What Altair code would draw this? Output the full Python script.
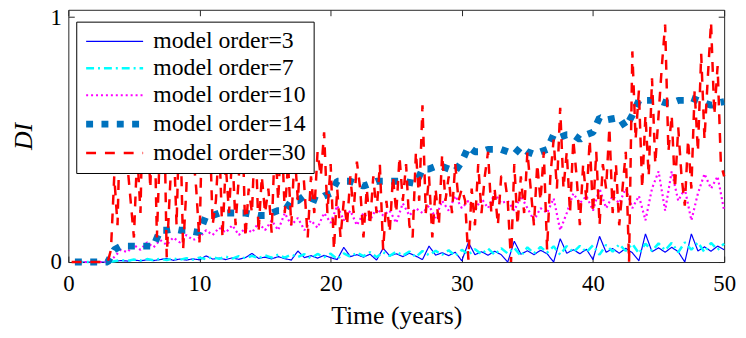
import altair as alt
import pandas as pd

# time grids (years)
TIME = [round(0.5 * k, 2) for k in range(1, 101)]
TIME_Q = [round(0.25 * k, 2) for k in range(1, 201)]

ORDERS = [3, 7, 10, 14, 30]
SERIES = ["model order=3", "model order=7", "model order=10",
          "model order=14", "model order=30"]
BREAKS = [5, 8.5, 12, 20]
COLORS = ["#0000FF", "#00FFFF", "#FF00FF", "#0072BD", "#FF0000"]
DASHES = [[1, 0], [8, 4, 2, 4], [2, 3], [7, 8.5], [10, 9]]
WIDTHS = [1.2, 2.5, 2.2, 7, 2.5]

ORDER3 = [0, 0, 0, 0, 0, 0, 0.003, 0.006, 0.004, 0.008,
          0.005, 0.009, 0.006, 0.01, 0.015, 0.007, 0.012, 0.008, 0.013, 0.009,
          0.025, 0.012, 0.016, 0.01, 0.017, 0.011, 0.018, 0.035, 0.015, 0.02,
          0.013, 0.022, 0.014, 0.008, 0.045, 0.018, 0.026, 0.016, 0.027, 0.018,
          0.01, 0.06, 0.022, 0.03, 0.02, 0.032, 0.008, 0.056, 0.025, 0.034,
          0.022, 0.036, 0.024, 0.01, 0.065, 0.028, 0.038, 0.026, 0.04, 0.005,
          0.08, 0.03, 0.042, 0.028, 0.044, 0.03, 0.0, 0.085, 0.032, 0.046,
          0.03, 0.048, 0.034, 0.0, 0.095, 0.036, 0.05, 0.034, 0.052, 0.01,
          0.105, 0.04, 0.055, 0.036, 0.056, 0.038, 0.005, 0.115, 0.042, 0.058,
          0.04, 0.06, 0.042, 0.0, 0.115, 0.045, 0.062, 0.044, 0.065, 0.05]

ORDER7 = [0, 0, 0, 0, 0, 0, 0.003, 0.008, 0.005, 0.01,
          0.006, 0.012, 0.007, 0.013, 0.008, 0.015, 0.009, 0.016, 0.01, 0.018,
          0.012, 0.02, 0.013, 0.022, 0.014, 0.024, 0.015, 0.025, 0.016, 0.027,
          0.018, 0.03, 0.018, 0.03, 0.02, 0.032, 0.015, 0.033, 0.02, 0.034,
          0.012, 0.035, 0.022, 0.038, 0.024, 0.04, 0.02, 0.04, 0.025, 0.042,
          0.026, 0.043, 0.02, 0.045, 0.028, 0.046, 0.03, 0.048, 0.025, 0.05,
          0.03, 0.052, 0.032, 0.055, 0.03, 0.056, 0.035, 0.058, 0.025, 0.06,
          0.035, 0.062, 0.038, 0.064, 0.03, 0.065, 0.04, 0.066, 0.04, 0.068,
          0.03, 0.07, 0.042, 0.072, 0.045, 0.074, 0.035, 0.075, 0.045, 0.076,
          0.048, 0.078, 0.04, 0.08, 0.05, 0.08, 0.04, 0.078, 0.05, 0.075]

ORDER10 = [0, 0, 0, 0, 0, 0, 0.02, 0.05, 0.04, 0.07,
           0.05, 0.08, 0.06, 0.09, 0.07, 0.1, 0.08, 0.11, 0.09, 0.1,
           0.13, 0.11, 0.14, 0.12, 0.15, 0.11, 0.14, 0.12, 0.16, 0.13,
           0.17, 0.13, 0.2, 0.15, 0.18, 0.13, 0.17, 0.14, 0.2, 0.16,
           0.23, 0.17, 0.21, 0.15, 0.2, 0.17, 0.22, 0.19, 0.21, 0.16,
           0.24, 0.19, 0.22, 0.2, 0.23, 0.18, 0.25, 0.21, 0.27, 0.22,
           0.25, 0.21, 0.26, 0.22, 0.28, 0.24, 0.25, 0.21, 0.27, 0.22,
           0.17, 0.22, 0.2, 0.26, 0.13, 0.2, 0.28, 0.24, 0.27, 0.21,
           0.3, 0.22, 0.27, 0.24, 0.3, 0.22, 0.27, 0.17, 0.3, 0.37,
           0.21, 0.37, 0.25, 0.3, 0.17, 0.28, 0.36, 0.3, 0.35, 0.21]

ORDER14 = [0, 0, 0, 0, 0, 0, 0.05, 0.065, 0.065, 0.065,
           0.065, 0.065, 0.065, 0.13, 0.13, 0.135, 0.13, 0.13, 0.125, 0.12,
           0.19, 0.19, 0.2, 0.2, 0.2, 0.2, 0.2, 0.195, 0.19, 0.19,
           0.2, 0.21, 0.21, 0.25, 0.25, 0.27, 0.26, 0.25, 0.27, 0.28,
           0.33, 0.33, 0.33, 0.32, 0.31, 0.32, 0.33, 0.33, 0.33, 0.33,
           0.33, 0.325, 0.32, 0.38, 0.38, 0.39, 0.39, 0.38, 0.37, 0.41,
           0.47, 0.45, 0.45, 0.46, 0.46, 0.46, 0.45, 0.44, 0.47, 0.45,
           0.44, 0.45, 0.46, 0.52, 0.51, 0.52, 0.52, 0.5, 0.52, 0.53,
           0.59, 0.58, 0.585, 0.59, 0.55, 0.6, 0.66, 0.66, 0.66, 0.66,
           0.65, 0.65, 0.66, 0.66, 0.67, 0.66, 0.65, 0.64, 0.65, 0.655]

# quarterly values, one row per year
ORDER30 = [0, 0, 0, 0,
           0, 0, 0, 0,
           0, 0, 0, 0,
           0.05, 0.35, 0.15, 0.7,
           0.9, 0.4, 0.25, 0.1,
           0.45, 0.2, 0.85, 0.6,
           0.3, 0.75, 0.1, 0.5,
           0.8, 0.02, 0.3, 0.55,
           0.15, 0.65, 0.05, 0.3,
           0.8, 0.45, 0.3, 0.08,
           0.7, 0.35, 0.6, 0.15,
           0.25, 0.5, 0.1, 0.4,
           0.2, 0.45, 0.15, 0.35,
           0.6, 0.1, 0.3, 0.2,
           0.55, 0.12, 0.35, 0.2,
           0.3, 0.12, 0.5, 0.25,
           0.55, 0.2, 0.4, 0.15,
           0.45, 0.25, 0.5, 0.3,
           0.1, 0.35, 0.2, 0.45,
           0.35, 0.53, 0.2, 0.4,
           0.05, 0.3, 0.1, 0.25,
           0.15, 0.35, 0.2, 0.41,
           0.3, 0.1, 0.3, 0.15,
           0.35, 0.2, 0.4, 0.05,
           0.25, 0.12, 0.35, 0.2,
           0.43, 0.25, 0.4, 0.15,
           0.1, 0.45, 0.25, 0.64,
           0.2, 0.35, 0.1, 0.3,
           0.15, 0.44, 0.25, 0.35,
           0.2, 0.4, 0.25, 0.3,
           0.25, 0.01, 0.3, 0.15,
           0.4, 0.2, 0.35, 0.45,
           0.2, 0.3, 0.15, 0.35,
           0.35, 0.25, 0.0, 0.4,
           0.15, 0.35, 0.2, 0.45,
           0.3, 0.15, 0.4, 0.25,
           0.45, 0.05, 0.35, 0.5,
           0.3, 0.63, 0.3, 0.45,
           0.2, 0.5, 0.35, 0.15,
           0.4, 0.25, 0.5, 0.2,
           0.45, 0.15, 0.4, 0.3,
           0.55, 0.2, 0.4, 0.15,
           0.3, 0.45, 0.0, 0.86,
           0.5, 0.7, 0.3, 0.6,
           0.35, 0.75, 0.4, 0.6,
           0.8, 0.97, 0.45, 0.6,
           0.3, 0.55, 0.35, 0.23,
           0.5, 0.3, 0.7, 0.45,
           0.85, 0.5, 0.75, 0.98,
           0.6, 0.8, 0.4, 0.35]

X_TICKS = [0, 10, 20, 30, 40, 50]
Y_TICKS = [0, 1]

FONT = "Liberation Serif"
FRAME = "#262626"

VALUES = [ORDER3, ORDER7, ORDER10, ORDER14, ORDER30]
GRIDS = [TIME, TIME, TIME, TIME, TIME_Q]

x_bottom = alt.Axis(values=X_TICKS, format="d", title="Time (years)", domain=False,
                    grid=False, tickSize=6, offset=-6, tickColor=FRAME,
                    labelPadding=11, labelFont=FONT, labelFontSize=23, labelFlush=False,
                    labelColor="black", titleFont=FONT, titleFontSize=26,
                    titleFontWeight="normal", titleColor="black", titlePadding=7)
y_left = alt.Axis(values=Y_TICKS, format="d", title="DI", domain=False, grid=False,
                  tickSize=6, offset=-6, tickColor=FRAME, labelPadding=7,
                  labelFont=FONT, labelFontSize=23, labelColor="black", labelFlush=False,
                  titleFont=FONT, titleFontSize=26, titleFontWeight="normal",
                  titleFontStyle="italic", titleColor="black", titlePadding=14)
x_top = alt.Axis(orient="top", values=X_TICKS, labels=False, title=None, domain=False,
                 grid=False, tickSize=6, offset=-6, tickColor=FRAME)
y_right = alt.Axis(orient="right", values=Y_TICKS, labels=False, title=None,
                   domain=False, grid=False, tickSize=6, offset=-6, tickColor=FRAME)

names_js = "[" + ",".join("'%s'" % s for s in SERIES) + "]"
legend = alt.Legend(title=None, type="symbol", labelExpr="%s[datum.index]" % names_js)

layers = []
for i, (order, grid, vals) in enumerate(zip(ORDERS, GRIDS, VALUES)):
    df = pd.DataFrame({"t": grid, "DI": vals, "order": [order] * len(grid)})
    if i == 0:
        xa, ya = x_bottom, y_left
    elif i == 1:
        xa, ya = x_top, y_right
    else:
        xa, ya = None, None
    layer = alt.Chart(df).mark_line(strokeCap="butt", strokeJoin="bevel").encode(
        x=alt.X("t:Q", scale=alt.Scale(domain=[0, 50], nice=False, zero=False), axis=xa),
        y=alt.Y("DI:Q", scale=alt.Scale(domain=[0, 1.03], nice=False), axis=ya),
        color=alt.Color("order:Q", scale=alt.Scale(type="threshold", domain=BREAKS,
                                                   range=COLORS), legend=legend),
        strokeDash=alt.StrokeDash("order:Q", scale=alt.Scale(type="threshold", domain=BREAKS,
                                                             range=DASHES), legend=legend),
        strokeWidth=alt.StrokeWidth("order:Q", scale=alt.Scale(type="threshold", domain=BREAKS,
                                                               range=WIDTHS), legend=legend),
    )
    layers.append(layer)

chart = alt.layer(*layers).resolve_axis(x="independent", y="independent").properties(
    width=663, height=255,
    padding={"left": 61, "top": 0, "right": 14, "bottom": 75},
    autosize="none",
).configure_view(stroke=FRAME, strokeWidth=1).configure_legend(
    orient="none", legendX=8, legendY=12, fillColor="white", strokeColor="black",
    padding=8, symbolType="M-3.6,0H3.6", symbolSize=256, symbolOffset=18.8,
    labelFont=FONT, labelFontSize=24, labelColor="black", labelOffset=27,
    rowPadding=3.2, cornerRadius=0, labelLimit=400,
)

chart.save("out.html", embed_options={"renderer": "svg", "actions": False})
